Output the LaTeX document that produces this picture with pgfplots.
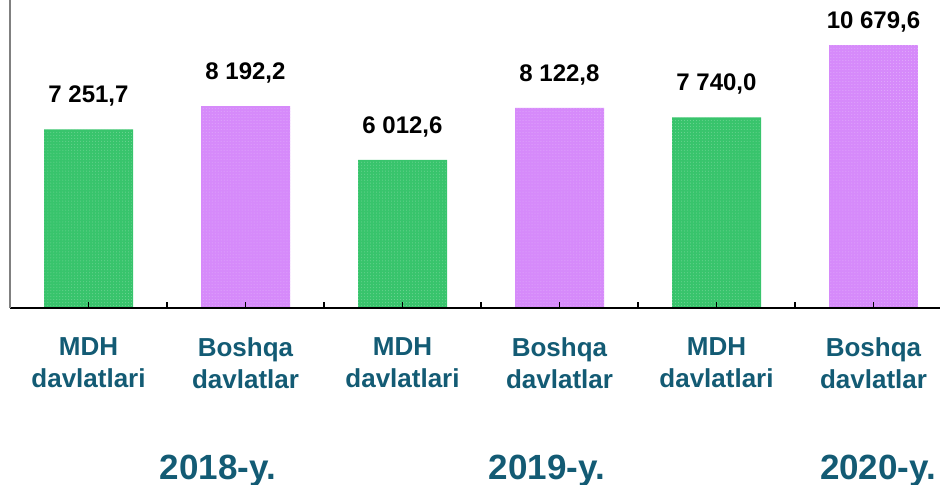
\documentclass[border=0pt]{standalone}
\usepackage{fontspec}
\setmainfont{Liberation Sans}
\usepackage{pgfplots}
\pgfplotsset{compat=1.18}
\usetikzlibrary{patterns}
\definecolor{labteal}{HTML}{135B74}
\definecolor{barg}{HTML}{38C46C}
\definecolor{barp}{HTML}{D68AFA}
\begin{document}
\begin{tikzpicture}
\begin{axis}[
  name=ax, axis on top,
  scale only axis, width=930bp, height=308bp,
  xmin=-0.5, xmax=5.4236, ymin=0, ymax=12500,
  axis x line*=bottom, axis y line*=left,
  x axis line style={black, line width=1.6bp},
  y axis line style={gray, line width=1.2bp},
  ytick=\empty,
  xtick={-0.5,0,0.5,1,1.5,2,2.5,3,3.5,4,4.5,5},
  xticklabels={,{MDH\\davlatlari},,{Boshqa\\davlatlar},,{MDH\\davlatlari},,{Boshqa\\davlatlar},,{MDH\\davlatlari},,{Boshqa\\davlatlar}},
  major tick length=-6bp,
  xtick style={black, line width=1.2bp},
  xticklabel style={align=center, font=\bfseries\fontsize{26bp}{32bp}\selectfont, text=labteal, yshift=-32bp},
  ybar, bar width=89bp, bar shift=0pt,
  clip=false,
  nodes near coords, point meta=explicit symbolic,
  every node near coord/.style={font=\bfseries\fontsize{24bp}{28bp}\selectfont, text=black, anchor=center, yshift=33bp},
]
\addplot[draw=none, fill=barg, postaction={pattern=dots, pattern color=barg!70!white}] coordinates {(0,7251.7) [7 251,7] (2,6012.6) [6 012,6] (4,7740.0) [7 740,0]};
\addplot[draw=none, fill=barp, postaction={pattern=dots, pattern color=barp!70!white}] coordinates {(1,8192.2) [8 192,2] (3,8122.8) [8 122,8]};
\addplot[draw=none, fill=barp, postaction={pattern=dots, pattern color=barp!70!white}, every node near coord/.append style={yshift=-10bp}] coordinates {(5,10679.6) [10 679,6]};
\node[anchor=base, font=\bfseries\fontsize{35bp}{40bp}\selectfont, text=labteal] at (axis cs:0.825,-6940) {2018-y.};
\node[anchor=base, font=\bfseries\fontsize{35bp}{40bp}\selectfont, text=labteal] at (axis cs:2.920,-6940) {2019-y.};
\node[anchor=base, font=\bfseries\fontsize{35bp}{40bp}\selectfont, text=labteal] at (axis cs:5.029,-6940) {2020-y.};
\end{axis}
\pgfresetboundingbox
\path[use as bounding box] ([shift={(-10bp,-177bp)}]ax.south west) rectangle (ax.north east);
\end{tikzpicture}
\end{document}
